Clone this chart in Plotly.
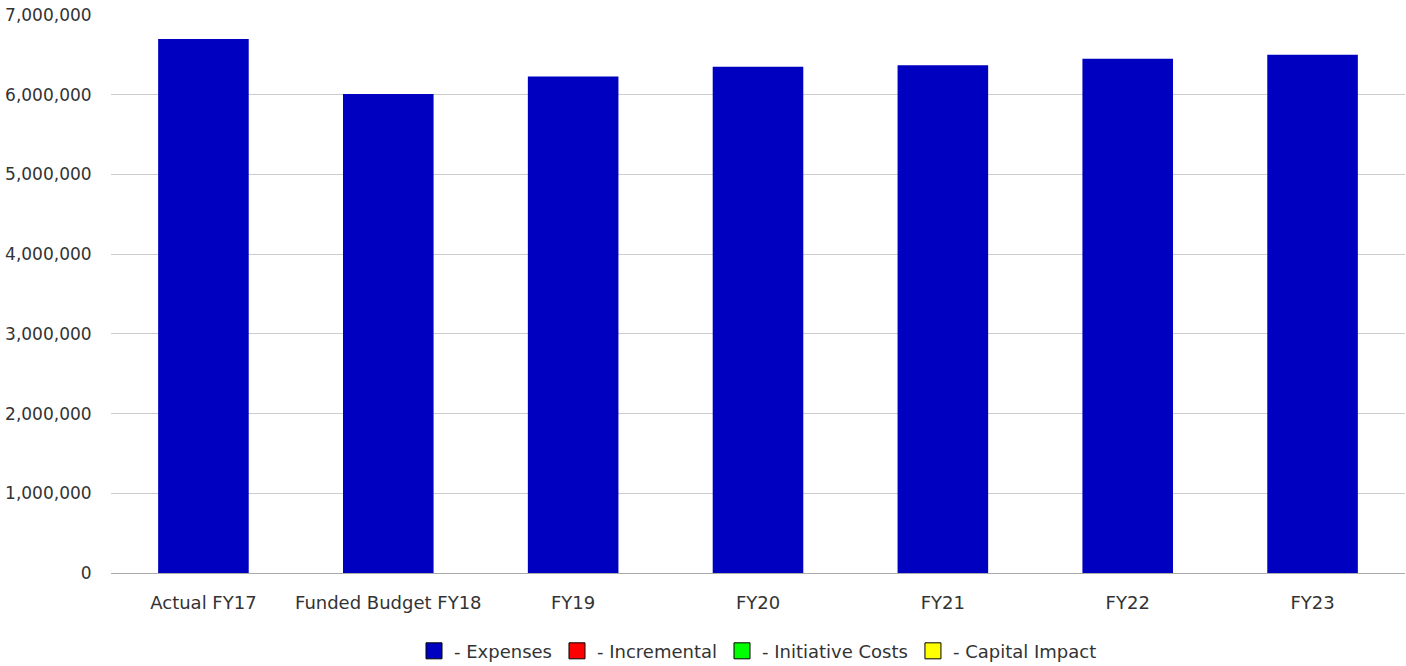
import plotly.graph_objects as go

# Expense totals by fiscal period
categories = ["Actual FY17", "Funded Budget FY18", "FY19", "FY20", "FY21", "FY22", "FY23"]
expenses = [6700000, 6010000, 6230000, 6350000, 6370000, 6450000, 6500000]

# Legend entries and their swatch colours
legend_names = ["- Expenses", "- Incremental", "- Initiative Costs", "- Capital Impact"]
legend_colors = ["#0000c0", "#ff0000", "#00ff00", "#ffff00"]

y_ticks = [0, 1000000, 2000000, 3000000, 4000000, 5000000, 6000000, 7000000]
y_tick_text = ["0", "1,000,000", "2,000,000", "3,000,000", "4,000,000",
               "5,000,000", "6,000,000", "7,000,000"]

FONT = "DejaVu Sans, Liberation Sans, sans-serif"
TEXT_COLOR = "#333333"
SIZE = 18

fig = go.Figure()

fig.add_trace(go.Bar(
    x=categories, y=expenses,
    marker=dict(color=legend_colors[0], line=dict(width=0)),
    showlegend=False, hoverinfo="x+y",
))

# Outlined square swatches for the legend
for name, color in zip(legend_names, legend_colors):
    fig.add_trace(go.Scatter(
        x=[categories[0]], y=[None], name=name, mode="markers",
        marker=dict(symbol="square", size=16, color=color,
                    line=dict(color="#000000", width=1)),
    ))

fig.update_layout(
    width=1406, height=666,
    margin=dict(l=111, r=1, t=15, b=93, autoexpand=False),
    paper_bgcolor="white", plot_bgcolor="white",
    bargap=0.51,
    font=dict(family=FONT, size=SIZE, color=TEXT_COLOR),
    legend=dict(
        orientation="h", x=0.5, xanchor="center", y=-0.140, yanchor="middle",
        font=dict(family=FONT, size=SIZE, color=TEXT_COLOR),
        itemclick=False, itemdoubleclick=False,
        traceorder="normal", itemsizing="trace",
    ),
    showlegend=True,
)

fig.update_xaxes(
    showgrid=False, showline=False, zeroline=False,
    ticks="outside", ticklen=13, tickcolor="rgba(0,0,0,0)",
    tickfont=dict(family=FONT, size=SIZE, color=TEXT_COLOR),
)
fig.update_yaxes(
    range=[0, 7000000], tickvals=y_ticks, ticktext=y_tick_text,
    showgrid=True, gridcolor="#cccccc", gridwidth=1,
    zeroline=True, zerolinecolor="#aaaaaa", zerolinewidth=1,
    ticks="outside", ticklen=15, tickcolor="rgba(0,0,0,0)",
    tickfont=dict(family=FONT, size=17, color=TEXT_COLOR),
)

fig.write_html("out.html")
